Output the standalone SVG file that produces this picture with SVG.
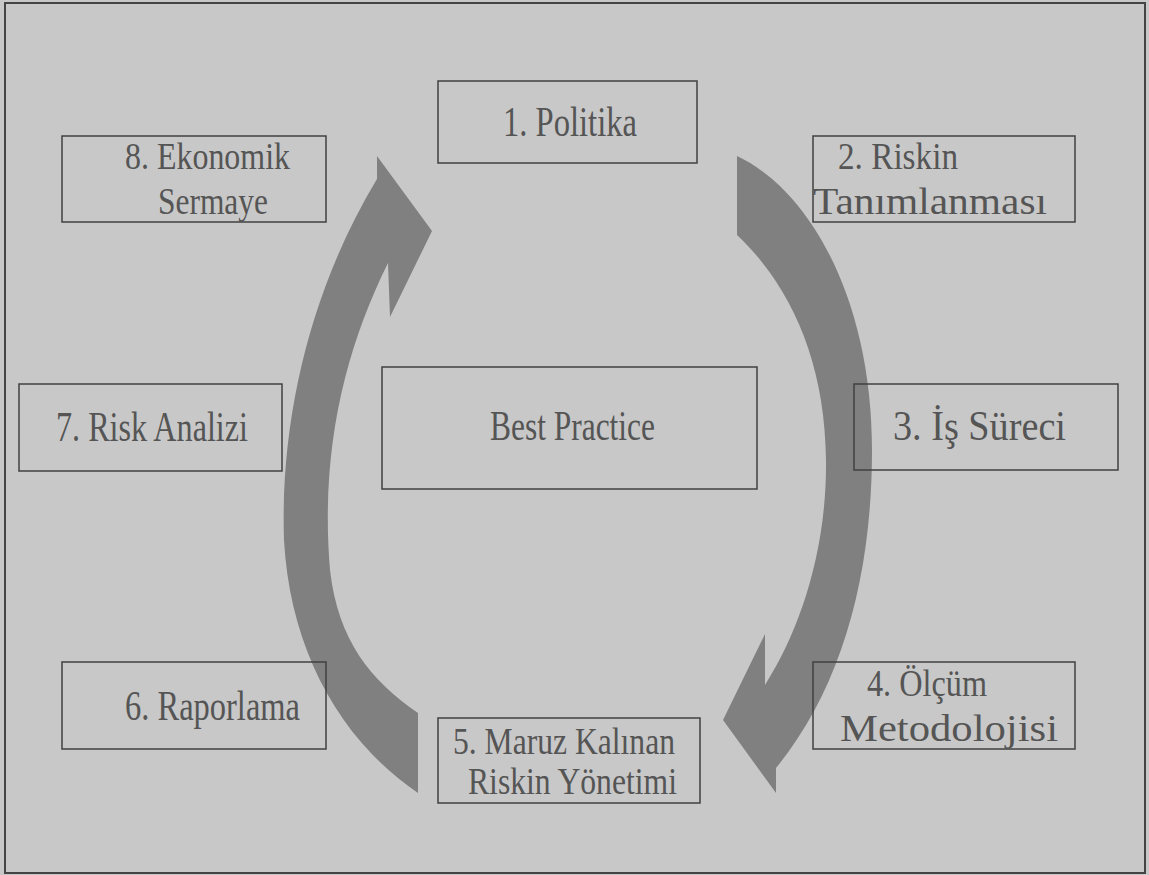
<svg xmlns="http://www.w3.org/2000/svg" width="1149" height="875" viewBox="0 0 1149 875">
<style>
.box{fill:none;stroke:#404040;stroke-width:1.5}
.t{font-family:"Liberation Serif","Times New Roman",serif;font-size:42px;fill:#555555}
.t2{font-family:"Liberation Serif","Times New Roman",serif;font-size:38px;fill:#555555}
.arr{fill:#808080}
</style>
<rect x="0" y="0" width="1149" height="875" fill="#c8c8c8"/>
<rect x="5" y="3" width="1140" height="870" fill="none" stroke="#444" stroke-width="2"/>
<g id="connectors">
<path class="arr" d="M377,156 L432,231 L390,317 L388,263 C345,350 320,450 330,570 C338,640 370,680 418,713 L418,793 C340,740 290,650 284,540 C280,420 310,290 377,179 Z"/>
<path class="arr" d="M737,156 C810,190 872,300 872,450 C872,580 840,690 776,768 L776,793 L723,720 L765,634 L765,685 C800,630 827,550 826,460 C825,360 790,285 737,235 Z"/>
</g>
<g id="n1"><rect class="box" x="438" y="81" width="259" height="82"/><text class="t" x="503" y="136" textLength="134" lengthAdjust="spacingAndGlyphs">1. Politika</text></g>
<g id="n2"><rect class="box" x="813" y="136" width="262" height="86"/><text class="t2" x="838" y="169" textLength="120" lengthAdjust="spacingAndGlyphs">2. Riskin</text><text class="t2" x="813" y="214" textLength="234" lengthAdjust="spacingAndGlyphs">Tanımlanması</text></g>
<g id="n3"><rect class="box" x="854" y="384" width="264" height="86"/><text class="t" x="893" y="440" textLength="173" lengthAdjust="spacingAndGlyphs">3. İş Süreci</text></g>
<g id="n4"><rect class="box" x="813" y="662" width="262" height="87"/><text class="t2" x="867" y="696" textLength="120" lengthAdjust="spacingAndGlyphs">4. Ölçüm</text><text class="t2" x="840" y="741" textLength="218" lengthAdjust="spacingAndGlyphs">Metodolojisi</text></g>
<g id="n5"><rect class="box" x="438" y="718" width="262" height="85"/><text class="t2" x="453" y="754" textLength="222" lengthAdjust="spacingAndGlyphs">5. Maruz Kalınan</text><text class="t2" x="468" y="794" textLength="209" lengthAdjust="spacingAndGlyphs">Riskin Yönetimi</text></g>
<g id="n6"><rect class="box" x="62" y="662" width="264" height="87"/><text class="t" x="125" y="720" textLength="175" lengthAdjust="spacingAndGlyphs">6. Raporlama</text></g>
<g id="n7"><rect class="box" x="19" y="384" width="263" height="87"/><text class="t" x="56" y="441" textLength="192" lengthAdjust="spacingAndGlyphs">7. Risk Analizi</text></g>
<g id="n8"><rect class="box" x="62" y="136" width="264" height="86"/><text class="t2" x="125" y="169" textLength="165" lengthAdjust="spacingAndGlyphs">8. Ekonomik</text><text class="t2" x="158" y="214" textLength="110" lengthAdjust="spacingAndGlyphs">Sermaye</text></g>
<g id="center"><rect class="box" x="382" y="367" width="375" height="122"/><text class="t" x="490" y="440" textLength="165" lengthAdjust="spacingAndGlyphs">Best Practice</text></g>
</svg>
